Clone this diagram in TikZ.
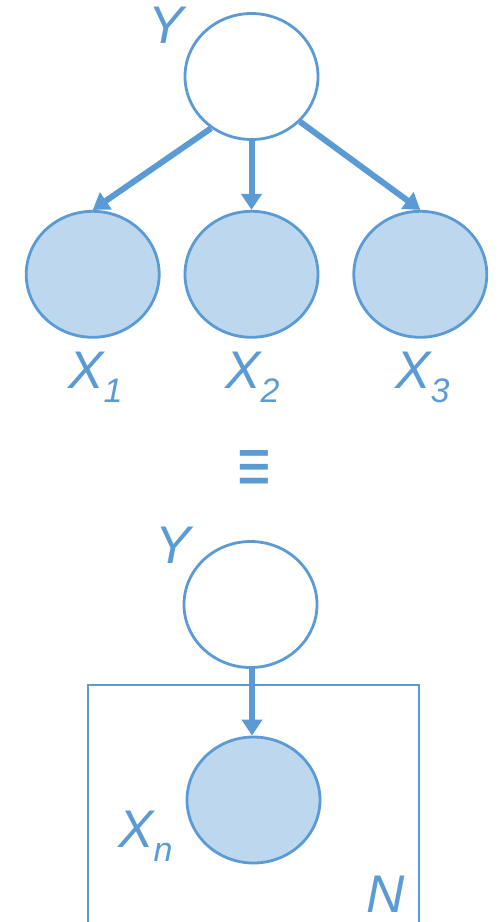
\documentclass[tikz,border=0pt]{standalone}
\usepackage{fontspec}
\setmainfont{Liberation Sans}
\usetikzlibrary{positioning, arrows.meta, shapes.geometric}
\definecolor{pgmblue}{HTML}{5B9BD5}
\definecolor{pgmfill}{HTML}{BDD7EE}
\tikzset{
  latent/.style={ellipse, draw=pgmblue, fill=white, line width=2.8pt,
                 minimum width=133pt, minimum height=126pt, inner sep=0pt},
  observed/.style={latent, fill=pgmfill},
  varlbl/.style={text=pgmblue, font=\fontsize{53pt}{53pt}\selectfont\itshape,
                 inner sep=0pt, anchor=base west},
  edge/.style={-{Triangle[length=16pt, width=20pt]}, draw=pgmblue, line width=6pt},
  plate/.style={draw=pgmblue, line width=2.8pt},
}
\newcommand{\idx}[1]{\raisebox{-14pt}{\fontsize{34pt}{34pt}\selectfont #1}}

\begin{document}
\begin{tikzpicture}[x=1pt, y=-1pt]
  \useasboundingbox (0,0) rectangle (503,922);
  % unrolled model
  \node[latent] (yt) at (251.5,76.5) {};
  \node[observed, below=69pt of yt] (x2) {};
  \node[observed, left=23pt of x2] (x1) {};
  \node[observed, right=33pt of x2] (x3) {};
  \node[varlbl] (ytl) at (148,43) {Y};
  \node[varlbl] (x1l) at (68,388) {X\idx{1}};
  \node[varlbl] (x2l) at (225,388) {X\idx{2}};
  \node[varlbl] (x3l) at (395,388) {X\idx{3}};
  \draw[edge] (yt.232) -- (x1.north);
  \draw[edge] (yt.south) -- (x2.north);
  \draw[edge] (yt.317) -- (x3.north);
  % equivalence
  \node[text=pgmblue, font=\fontsize{55pt}{55pt}\selectfont, inner sep=0pt]
    (eq) at (254,472) {\scalebox{1.05}[1.45]{≡}};
  % plate notation
  \node[latent] (yb) at (250.5,604.5) {};
  \node[observed] (xn) at (253.5,800) {};
  \node[varlbl] (ybl) at (155,563) {Y};
  \node[varlbl] (xnl) at (118,847) {X\idx{n}};
  \node[varlbl] (nl) at (366,912) {N};
  \coordinate (pl) at (88,930);
  \coordinate (pr) at (419,930);
  \coordinate (pt) at (254,685);
  \draw[plate] (pl) |- (pt) -| (pr);
  \draw[edge] ([xshift=1.5pt]yb.south) -- ([xshift=1.5pt]yb.south |- xn.north);
\end{tikzpicture}
\end{document}
